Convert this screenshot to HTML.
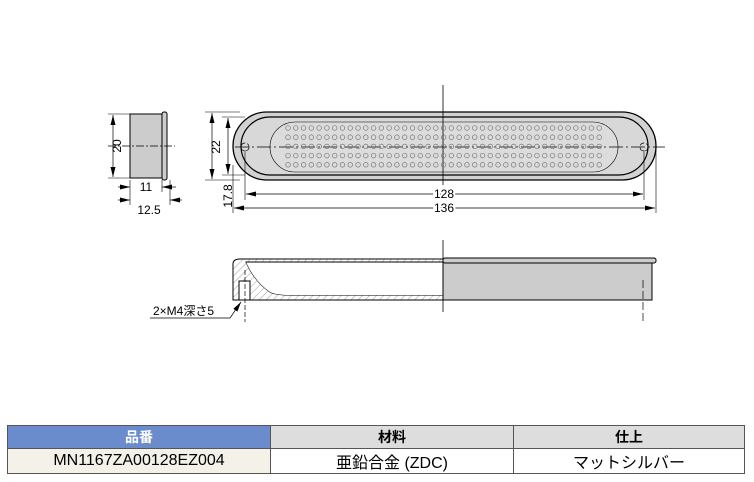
<!DOCTYPE html>
<html><head><meta charset="utf-8"><style>
body{margin:0;background:#fff;width:754px;height:482px;overflow:hidden;font-family:"Liberation Sans","Noto Sans CJK JP",sans-serif}
svg{position:absolute;left:0;top:0}
table{position:absolute;left:7px;top:425px;width:738px;border-collapse:collapse;font-size:14px}
td{border:1px solid #555;text-align:center;padding:0}
.h td{background:#ddd;font-weight:bold;height:22px}
.h td.b{background:#6b8ccc;color:#fff}
.d td{font-size:16px;height:23px}
.d td.p{background:#f3f1e8}
</style></head><body>
<svg width="754" height="420" xmlns="http://www.w3.org/2000/svg" font-family="Liberation Sans,Noto Sans CJK JP,sans-serif" font-size="12">
<defs>
<pattern id="h" width="5" height="5" patternUnits="userSpaceOnUse" patternTransform="rotate(45)"><rect width="5" height="5" fill="#fff"/><line x1="0" y1="0" x2="0" y2="5" stroke="#888" stroke-width="0.8"/></pattern>
<marker id="a" markerWidth="10" markerHeight="6" refX="10" refY="3" orient="auto" markerUnits="userSpaceOnUse"><path d="M0,0.5L10,3L0,5.5z" fill="#000"/></marker>
<marker id="s" markerWidth="10" markerHeight="6" refX="0" refY="3" orient="auto" markerUnits="userSpaceOnUse"><path d="M10,0.5L0,3L10,5.5z" fill="#000"/></marker>
</defs>
<g stroke="#000" stroke-width="1" fill="none">
<rect x="130" y="114" width="32" height="64" fill="#ccc"/>
<rect x="162" y="112" width="5" height="68" rx="2" fill="#ccc"/>
<line x1="108" y1="146" x2="175" y2="146" stroke-dasharray="8,2,2,2" stroke-width="0.7"/>
<line x1="108" y1="114" x2="130" y2="114" stroke-width="0.6"/>
<line x1="108" y1="178" x2="130" y2="178" stroke-width="0.6"/>
<line x1="113" y1="115" x2="113" y2="177" marker-start="url(#s)" marker-end="url(#a)" stroke-width="0.7"/>
<line x1="130" y1="180" x2="130" y2="205" stroke-width="0.6"/>
<line x1="170" y1="180" x2="170" y2="205" stroke-width="0.6"/>
<line x1="162" y1="180" x2="162" y2="192" stroke-width="0.6"/>
<line x1="118" y1="187" x2="130" y2="187" marker-end="url(#a)" stroke-width="0.7"/>
<line x1="176" y1="187" x2="162" y2="187" marker-end="url(#a)" stroke-width="0.7"/>
<line x1="118" y1="200" x2="130" y2="200" marker-end="url(#a)" stroke-width="0.7"/>
<line x1="182" y1="200" x2="170" y2="200" marker-end="url(#a)" stroke-width="0.7"/>
<rect x="233" y="112" width="423" height="68" rx="34" fill="#d2d2d2" stroke-width="1.3"/>
<rect x="241" y="117" width="407" height="58" rx="29" fill="#d8d8d8" stroke-width="1.2"/>
<rect x="270" y="122" width="348" height="50" rx="25" fill="#dcdcdc" stroke-width="0.6"/>
<line x1="443" y1="85" x2="443" y2="185" stroke-width="0.8"/>
<line x1="235" y1="147" x2="665" y2="147" stroke-dasharray="14,3,2,3" stroke-width="0.7"/>
<circle cx="245" cy="147" r="4" stroke-width="0.7" stroke-dasharray="5,2"/>
<circle cx="644" cy="147" r="4" stroke-width="0.7" stroke-dasharray="5,2"/>
<line x1="205" y1="112" x2="240" y2="112" stroke-width="0.6"/>
<line x1="205" y1="180" x2="240" y2="180" stroke-width="0.6"/>
<line x1="222" y1="117" x2="245" y2="117" stroke-width="0.6"/>
<line x1="222" y1="175" x2="245" y2="175" stroke-width="0.6"/>
<line x1="212" y1="113" x2="212" y2="179" marker-start="url(#s)" marker-end="url(#a)" stroke-width="0.7"/>
<line x1="228" y1="118" x2="228" y2="174" marker-start="url(#s)" marker-end="url(#a)" stroke-width="0.7"/>
<line x1="245" y1="150" x2="245" y2="200" stroke-width="0.6"/>
<line x1="644" y1="150" x2="644" y2="200" stroke-width="0.6"/>
<line x1="233" y1="165" x2="233" y2="213" stroke-width="0.6"/>
<line x1="656" y1="150" x2="656" y2="213" stroke-width="0.6"/>
<line x1="246" y1="194" x2="643" y2="194" marker-start="url(#s)" marker-end="url(#a)" stroke-width="0.7"/>
<line x1="234" y1="208" x2="655" y2="208" marker-start="url(#s)" marker-end="url(#a)" stroke-width="0.7"/>
<line x1="443" y1="240" x2="443" y2="312" stroke-width="0.8"/>
<path d="M233,264 Q233,259 240,259 L443,259 L443,262 L246,262 Q255,282 270,292 Q276,295 290,295 L443,295 L443,300 L233,300 Z" fill="url(#h)"/>
<path d="M240,262 L443,262 L443,295 L290,295 Q276,295 270,292 Q255,282 246,262 Z" fill="#fff" stroke="none"/>
<line x1="246" y1="262" x2="443" y2="262"/>
<rect x="443" y="262" width="209" height="38" fill="#ccc"/>
<rect x="443" y="258" width="213" height="5" rx="2" fill="#ccc"/>
<rect x="239" y="281" width="11" height="19" fill="#fff"/>
<line x1="245" y1="270" x2="245" y2="322" stroke-dasharray="5,2" stroke-width="0.7"/>
<line x1="643" y1="280" x2="643" y2="322" stroke-dasharray="8,3" stroke-width="0.7"/>
<polyline points="150,318 230,318 241,302" stroke-width="0.7" marker-end="url(#a)"/>
</g>
<g fill="#000">
<text transform="translate(121,146) rotate(-90)" text-anchor="middle">20</text>
<text x="146" y="191" text-anchor="middle" style="paint-order:stroke" stroke="#fff" stroke-width="4">11</text>
<text x="149" y="214" text-anchor="middle">12.5</text>
<text transform="translate(220,147) rotate(-90)" text-anchor="middle">22</text>
<text transform="translate(232,196) rotate(-90)" text-anchor="middle">17.8</text>
<text x="444" y="198" text-anchor="middle" style="paint-order:stroke" stroke="#fff" stroke-width="4">128</text>
<text x="444" y="212" text-anchor="middle" style="paint-order:stroke" stroke="#fff" stroke-width="4">136</text>
<text x="153" y="315">2×M4深さ5</text>
</g>
<g fill="none" stroke="#777" stroke-width="0.7" id="holes"></g>
</svg>
<script>
var g=document.getElementById('holes'),s='';
for(var r=0;r<5;r++){var y=128+r*9.2;for(var c=0;c<41;c++){var x=288+c*7.78;s+='<circle cx="'+x+'" cy="'+y+'" r="2.3"/>';}}
g.innerHTML=s;
</script>
<table>
<tr class="h"><td class="b" style="width:262px">品番</td><td style="width:242px">材料</td><td>仕上</td></tr>
<tr class="d"><td class="p">MN1167ZA00128EZ004</td><td>亜鉛合金 (ZDC)</td><td>マットシルバー</td></tr>
</table>
</body></html>
